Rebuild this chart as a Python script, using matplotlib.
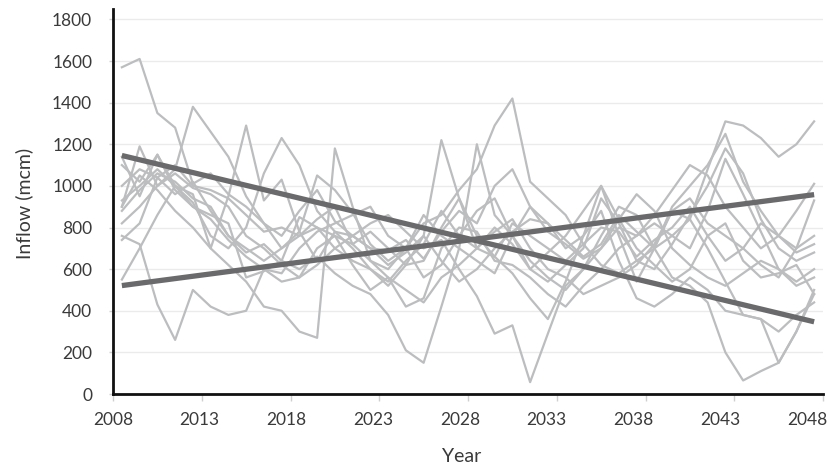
import numpy as np
import matplotlib
matplotlib.use("Agg")
import matplotlib.pyplot as plt
import matplotlib.transforms as mtransforms

# simulated inflow runs, 2009-2048 (mcm)
years = np.arange(2009, 2049)

run_01 = [1570, 1610, 1350, 1280, 1010, 1060, 960, 900, 820, 760, 880, 980, 830, 760, 700, 690, 740, 650, 780, 880,
          820, 1000, 1080, 900, 780, 720, 650, 700, 800, 760, 860, 980, 1100, 1050, 900, 800, 700, 760, 880, 1010]
run_02 = [900, 1190, 1000, 1080, 1380, 1260, 1140, 950, 820, 700, 780, 1050, 980, 870, 720, 640, 700, 560, 620, 760,
          880, 940, 760, 600, 540, 620, 700, 940, 820, 640, 600, 720, 860, 1000, 1180, 1060, 840, 700, 640, 680]
run_03 = [930, 1000, 1080, 1000, 960, 700, 950, 1290, 930, 1030, 780, 640, 780, 700, 600, 540, 640, 720, 880, 760,
          700, 800, 720, 600, 680, 760, 880, 1000, 760, 540, 700, 880, 940, 820, 760, 700, 620, 560, 700, 930]
run_04 = [760, 720, 430, 260, 500, 420, 380, 400, 600, 540, 560, 700, 760, 620, 500, 560, 420, 460, 700, 800,
          780, 640, 620, 560, 480, 420, 520, 600, 700, 760, 820, 760, 700, 880, 1130, 960, 780, 600, 520, 560]
run_05 = [550, 700, 860, 1000, 900, 860, 820, 560, 590, 640, 850, 800, 760, 720, 780, 700, 620, 640, 800, 940,
          760, 660, 580, 460, 360, 540, 760, 1000, 840, 700, 620, 540, 600, 760, 820, 640, 560, 580, 620, 480]
run_06 = [1140, 950, 1150, 1000, 920, 760, 700, 800, 1060, 1230, 1100, 880, 780, 760, 700, 620, 680, 760, 640, 540,
          600, 700, 780, 840, 820, 740, 660, 720, 860, 780, 700, 900, 1000, 1100, 1250, 1020, 880, 760, 700, 760]
run_07 = [900, 1050, 980, 880, 800, 700, 620, 540, 420, 400, 300, 270, 1180, 900, 640, 560, 500, 440, 560, 620,
          700, 780, 840, 700, 600, 560, 480, 520, 560, 620, 720, 880, 840, 700, 540, 380, 360, 300, 380, 440]
run_08 = [1000, 1080, 1040, 960, 1020, 880, 760, 700, 640, 700, 760, 800, 700, 640, 600, 520, 620, 760, 1220, 940,
          700, 660, 820, 760, 700, 640, 720, 800, 780, 660, 740, 800, 900, 760, 640, 700, 820, 760, 680, 720]
run_09 = [880, 980, 1060, 1020, 940, 900, 760, 680, 720, 640, 600, 660, 580, 520, 480, 380, 210, 150, 420, 700,
          1200, 860, 760, 640, 560, 500, 600, 700, 840, 960, 880, 700, 620, 560, 520, 580, 640, 600, 540, 600]
run_10 = [1100, 1020, 1150, 980, 900, 840, 740, 660, 600, 580, 700, 780, 820, 860, 900, 760, 700, 820, 860, 980,
          1080, 1290, 1420, 1020, 940, 860, 720, 620, 580, 640, 700, 760, 840, 1080, 1310, 1290, 1230, 1140, 1200, 1310]
run_11 = [820, 900, 1000, 1060, 990, 960, 900, 760, 700, 620, 560, 620, 700, 760, 820, 860, 780, 700, 740, 600,
          470, 290, 330, 57, 290, 520, 600, 760, 900, 860, 700, 560, 520, 440, 200, 65, 110, 150, 300, 480]
run_12 = [740, 820, 1040, 1100, 1000, 980, 940, 860, 780, 800, 760, 840, 900, 720, 640, 600, 700, 860, 760, 700,
          640, 580, 760, 900, 820, 700, 760, 880, 640, 460, 420, 480, 560, 500, 400, 380, 360, 150, 300, 500]

runs = [run_01, run_02, run_03, run_04, run_05, run_06,
        run_07, run_08, run_09, run_10, run_11, run_12]

# two trend lines (first and last year)
trend_years = [2009, 2048]
trend_down = [1146, 347]
trend_up = [521, 958]

plt.rcParams['font.family'] = ['Lato', 'DejaVu Sans']

fig = plt.figure(figsize=(8.29, 4.73), dpi=100)
ax = fig.add_axes([113 / 829, 79 / 473, 710 / 829, 385 / 473])

# points sit in the middle of each year slot
x = years - 0.5
for r in runs:
    ax.plot(x, r, color='#bcbdbf', lw=1.6, zorder=2)

tx = np.array(trend_years) - 0.5
ax.plot(tx, trend_down, color='#6a6a6c', lw=3.8, solid_capstyle='butt', zorder=3)
ax.plot(tx, trend_up, color='#6a6a6c', lw=3.8, solid_capstyle='butt', zorder=3)

ax.set_xlim(2008, 2048)
ax.set_ylim(0, 1850)
ax.set_xticks(np.arange(2008, 2049, 5))
ax.set_yticks(np.arange(0, 1801, 200))
ax.grid(axis='y', color='#ebebeb', lw=1)
ax.set_axisbelow(True)

for s in ['top', 'right']:
    ax.spines[s].set_visible(False)
for s in ['left', 'bottom']:
    ax.spines[s].set_linewidth(2)
    ax.spines[s].set_color('#111111')

ax.tick_params(axis='x', length=5, width=1, color='#d0d0d0', pad=8,
               labelsize=12.5, labelcolor='#3a3a3a')
ax.tick_params(axis='y', length=3, width=1, color='#d0d0d0', pad=12,
               labelsize=12.5, labelcolor='#3a3a3a')

# year labels drift slightly left of their ticks in the original
for k, lab in enumerate(ax.get_xticklabels()):
    shift = mtransforms.ScaledTranslation(-k * 2.0 / 100, 0, fig.dpi_scale_trans)
    lab.set_transform(lab.get_transform() + shift)

fig.text(24 / 829, 1 - 203 / 473, 'Inflow (mcm)', rotation=90, ha='center', va='center',
         fontsize=14, color='#3a3a3a')
fig.text(462 / 829, 1 - 456 / 473, 'Year', ha='center', va='center',
         fontsize=14, color='#3a3a3a')

fig.savefig('out.png', dpi=100)
